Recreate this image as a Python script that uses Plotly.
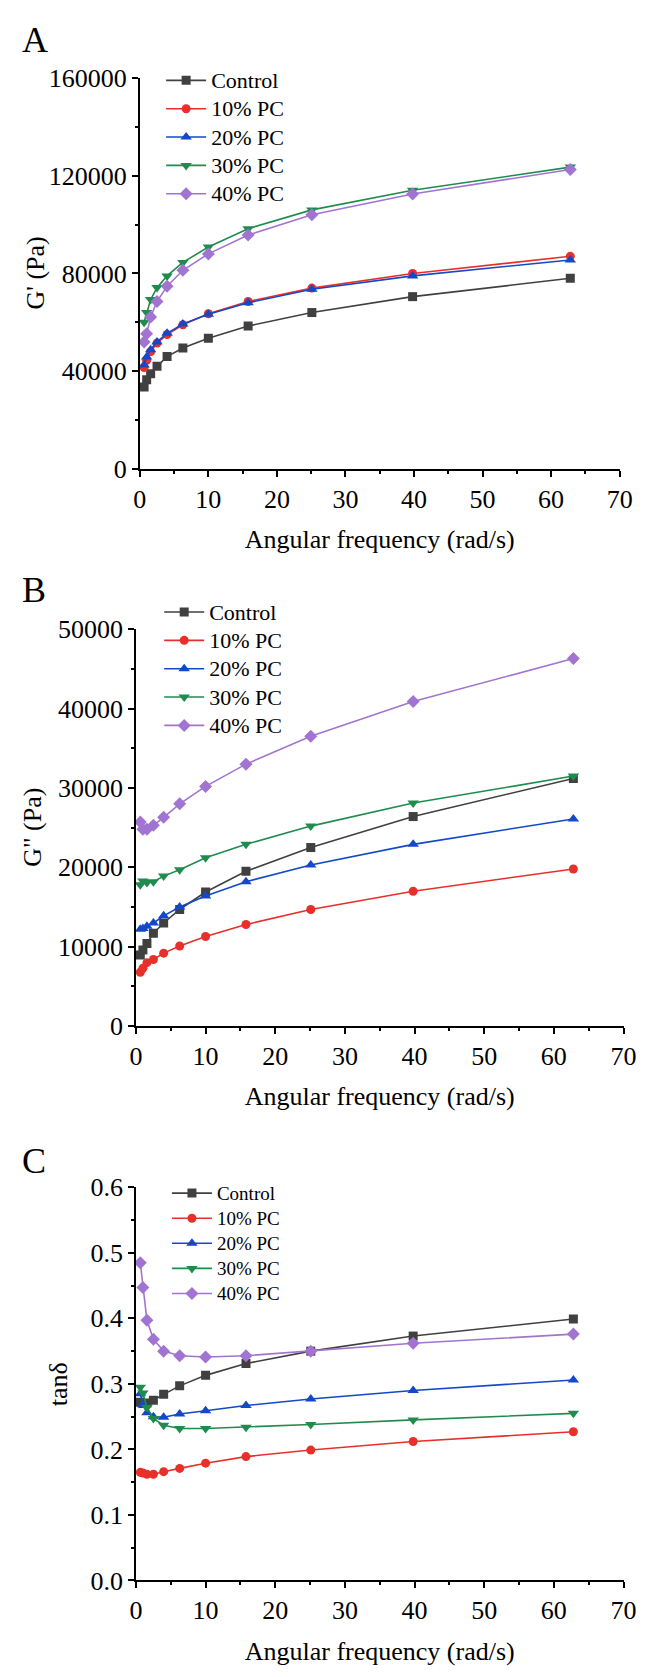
import plotly.graph_objects as go

freq = [0.628, 1.0, 1.58, 2.51, 3.98, 6.28, 10.0, 15.8, 25.1, 39.8, 62.8]
series_names = ["Control", "10% PC", "20% PC", "30% PC", "40% PC"]

gp_control = [33500, 36500, 39000, 42000, 46000, 49500, 53500, 58500, 64000, 70500, 78000]
gp_10 = [41500, 44500, 48000, 51500, 55000, 59000, 63500, 68500, 74000, 80000, 87000]
gp_20 = [42500, 45800, 48800, 52000, 55500, 59300, 63300, 68000, 73500, 79000, 85500]
gp_30 = [60000, 64000, 69300, 74200, 79000, 84500, 90800, 98300, 106000, 114000, 123500]
gp_40 = [52000, 55300, 62200, 68500, 74800, 81300, 88000, 95700, 104000, 112500, 122500]

gpp_control = [8950, 9600, 10400, 11700, 13000, 14700, 16900, 19500, 22500, 26400, 31200]
gpp_10 = [6800, 7300, 8000, 8400, 9200, 10100, 11300, 12800, 14700, 17000, 19800]
gpp_20 = [12200, 12300, 12600, 13000, 13900, 15000, 16400, 18200, 20300, 22900, 26100]
gpp_30 = [17800, 18300, 18100, 18200, 18900, 19700, 21200, 22900, 25200, 28100, 31500]
gpp_40 = [25700, 24800, 24800, 25300, 26300, 28000, 30200, 33000, 36500, 40900, 46300]

tan_control = [0.272, 0.270, 0.271, 0.275, 0.284, 0.297, 0.313, 0.331, 0.350, 0.373, 0.399]
tan_10 = [0.165, 0.164, 0.162, 0.162, 0.166, 0.171, 0.179, 0.189, 0.199, 0.212, 0.227]
tan_20 = [0.285, 0.268, 0.256, 0.250, 0.249, 0.254, 0.259, 0.267, 0.277, 0.290, 0.306]
tan_30 = [0.295, 0.286, 0.264, 0.247, 0.237, 0.232, 0.232, 0.234, 0.238, 0.245, 0.255]
tan_40 = [0.485, 0.447, 0.397, 0.368, 0.350, 0.343, 0.341, 0.343, 0.350, 0.362, 0.376]

colors = ["#404040", "#e8302a", "#1448c8", "#1f8c4e", "#a274d2"]
symbols = ["square", "circle", "triangle-up", "triangle-down", "diamond"]
marker_sizes = [9, 9, 10, 10, 10]

W, H = 653, 1677
FONT = "Liberation Serif, Times New Roman, serif"

def fy(px):
    return 1 - px / H

def fx(px):
    return px / W

panels = [
    dict(data=[gp_control, gp_10, gp_20, gp_30, gp_40], xa="x", ya="y", legend="legend",
         ytitle="G' (Pa)", letter="A", legtext=22),
    dict(data=[gpp_control, gpp_10, gpp_20, gpp_30, gpp_40], xa="x2", ya="y2", legend="legend2",
         ytitle='G" (Pa)', letter="B", legtext=22),
    dict(data=[tan_control, tan_10, tan_20, tan_30, tan_40], xa="x3", ya="y3", legend="legend3",
         ytitle="tanδ", letter="C", legtext=19),
]

fig = go.Figure()
for p in panels:
    for i, name in enumerate(series_names):
        fig.add_trace(go.Scatter(
            x=freq, y=p["data"][i],
            name=f"<span style='font-size:{p['legtext']}px'>{name}</span>",
            mode="lines+markers",
            xaxis=p["xa"], yaxis=p["ya"], legend=p["legend"],
            line=dict(color=colors[i], width=1.6),
            marker=dict(symbol=symbols[i], size=marker_sizes[i], color=colors[i]),
        ))

xdoms = [(137, 632), (133, 636), (133, 636)]
ydoms = [(65, 463), (626, 1030), (1194, 1594)]
yranges = [(0, 160000, 40000, 20000, "d"), (0, 50000, 10000, 5000, "d"), (0, 0.6, 0.1, 0.05, ".1f")]

fig.update_layout(width=W, height=H, margin=dict(l=0, r=0, t=0, b=0),
                  paper_bgcolor="white", plot_bgcolor="white", showlegend=True,
                  font=dict(family=FONT, size=24, color="black"))

anns = []
ytitle_x = [29, 27, 54]
for k in range(3):
    sx = "" if k == 0 else str(k + 1)
    x0, x1 = xdoms[k]
    y0, y1 = ydoms[k]
    r0, r1, dt, mdt, fmt = yranges[k]
    xa = dict(showline=True, linecolor="black", linewidth=1.5, ticks="outside",
              ticklen=6, tickwidth=1.5, tickcolor="black", showgrid=False, zeroline=False,
              tickfont=dict(family=FONT, size=26, color="black"),
              domain=[fx(x0), fx(x1)], range=[0, 70], dtick=10, tick0=0,
              anchor="y" + sx,
              minor=dict(ticklen=3, tickwidth=1.5, tickcolor="black", dtick=5, showgrid=False),
              title=dict(text="Angular frequency (rad/s)",
                         font=dict(family=FONT, size=26, color="black"), standoff=17))
    ya = dict(showline=True, linecolor="black", linewidth=1.5, ticks="outside",
              ticklen=6, tickwidth=1.5, tickcolor="black", showgrid=False, zeroline=False,
              tickfont=dict(family=FONT, size=26, color="black"),
              domain=[fy(y1), fy(y0)], range=[r0, r1], dtick=dt, tick0=0, tickformat=fmt,
              anchor="x" + sx,
              minor=dict(ticklen=3, tickwidth=1.5, tickcolor="black", dtick=mdt, showgrid=False))
    fig.update_layout({"xaxis" + sx: xa, "yaxis" + sx: ya})
    anns.append(dict(text=panels[k]["ytitle"], x=fx(ytitle_x[k]), y=fy((y0 + y1) / 2),
                     xref="paper", yref="paper", showarrow=False, textangle=-90,
                     xanchor="center", yanchor="middle",
                     font=dict(family=FONT, size=26, color="black")))

letters_y = [26, 586, 1167]
for k in range(3):
    anns.append(dict(text=panels[k]["letter"], x=fx(13), y=fy(letters_y[k]), xref="paper", yref="paper",
                     showarrow=False, xanchor="left", yanchor="middle",
                     font=dict(family=FONT, size=36, color="black")))

leg_pos = [(159, 48, 19.5), (157, 589, 19.5), (165, 1182, 17)]
for k, (lx, ly, fs) in enumerate(leg_pos):
    key = "legend" if k == 0 else "legend" + str(k + 1)
    fig.update_layout({key: dict(x=fx(lx), y=fy(ly), xanchor="left", yanchor="top",
                                 bgcolor="rgba(0,0,0,0)", borderwidth=0,
                                 font=dict(family=FONT, size=fs, color="black"),
                                 tracegroupgap=0, itemwidth=40)})
fig.update_layout(annotations=anns)
fig.write_html("out.html", config={"displayModeBar": False},
               post_script="document.body.style.margin='0';")
